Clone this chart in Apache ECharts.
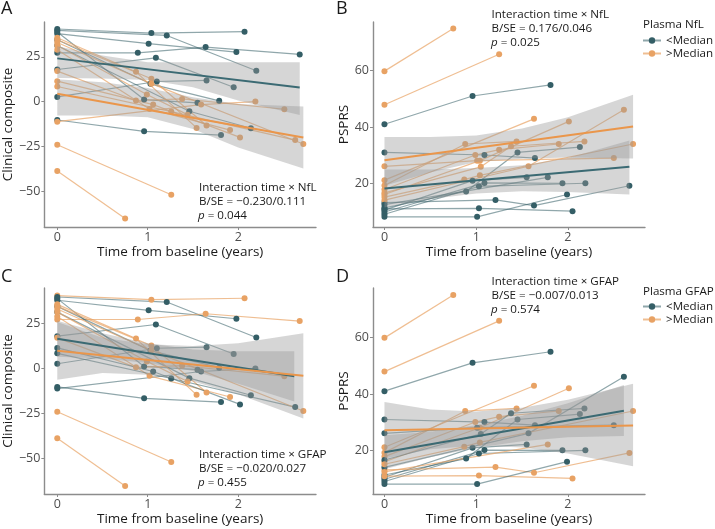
<!DOCTYPE html>
<html><head><meta charset="utf-8">
<script src="https://cdn.jsdelivr.net/npm/echarts@6/dist/echarts.min.js"></script>
<style>html,body{margin:0;padding:0;background:#fff}#c{width:715px;height:529px}</style>
</head><body><div id="c"></div>
<script>
// ---------- data ----------
const xTicks = [0, 1, 2];
const compositeTicks = [-50, -25, 0, 25];
const psprsTicks = [20, 40, 60];
const groupNames = ['<Median', '>Median'];

// Clinical composite, one trajectory per subject: [time (years), score]
const compositeSubjects = [
  [[0,40.5],[1.04,38.2],[2.07,39]],
  [[0,39.7],[1.21,36.9],[2.2,17.2]],
  [[0,37.9],[1.01,32.3],[1.98,27.6]],
  [[0,27.2],[0.89,27.2],[1.64,30.4],[2.68,26.3]],
  [[0,17.9],[1.09,24.4],[1.95,8]],
  [[0,2.6],[1.1,11.2],[1.65,11.8]],
  [[0,-10.3],[0.96,-16.6],[1.81,-18.7]],
  [[0,38.8],[0.96,1.1],[1.55,-0.7]],
  [[0,34.5],[1.03,9.9],[1.79,0.4]],
  [[0,31.3],[1.46,-5.4],[2.14,-14.9]],
  [[0,-24.1],[1.26,-52]],
  [[0,-38.8],[0.75,-65.3]],
  [[0,-11.2],[1.59,-1.7],[2.19,0]],
  [[0,35.6],[0.87,16.6],[1.54,-14.7]],
  [[0,34.5],[1.04,12.7],[1.65,-13.4]],
  [[0,31.3],[0.99,3.9],[1.44,-7.3]],
  [[0,28.9],[1.02,-4.1],[1.91,-15.9]],
  [[0,17],[0.87,0.6],[1.38,1.5],[2.51,-4.3]],
  [[0,11.4],[1.06,-1.7],[2.02,-20]],
  [[0,8.4],[1.26,-5.6],[2.63,-21.5]],
  [[0,33],[1.04,10],[2.72,-23.7]]
];
// group index: 0 = <Median, 1 = >Median
const compositeNfL  = [0,0,0,0,0,0,0,0,0,0,1,1,1,1,1,1,1,1,1,1,1];
const compositeGFAP = [1,0,0,1,0,0,0,0,0,0,1,1,0,1,1,1,1,1,0,0,1];

// PSPRS, one trajectory per subject
const psprsSubjects = [
  [[0,41],[0.96,51],[1.81,54.9]],
  [[0,59.8],[0.75,74.9]],
  [[0,47.9],[1.25,65.8]],
  [[0,31],[1.09,30.1],[1.64,29]],
  [[0,11.4],[0.89,17.2],[1.45,31],[2.13,32.9]],
  [[0,10.6],[0.96,21],[1.55,22.2]],
  [[0,9.9],[1.09,20.2],[1.94,20.1]],
  [[0,9.1],[1.03,19],[2.19,20.1]],
  [[0,13.2],[1.21,14.2],[1.63,12.2],[2.67,19.2]],
  [[0,11],[1.03,11.2],[2.05,10.2]],
  [[0,8.2],[1.01,8.2],[1.99,16.1]],
  [[0,21.2],[1.63,42.9]],
  [[0,19.3],[0.88,34],[1.44,34.9]],
  [[0,16.1],[1.04,28.1],[2.01,42]],
  [[0,14.1],[1.57,26.1],[2.61,46.1]],
  [[0,26.1],[1.01,28.1],[2.5,29]],
  [[0,17.9],[0.99,30.1],[1.25,32],[1.9,34]],
  [[0,16.7],[1.05,25.9],[1.38,33.2],[2.18,34.9]],
  [[0,15.2],[0.87,21.4],[1.04,22.9],[2.71,34]],
  [[0,12.5],[1.78,22.2]]
];
const psprsNfL  = [0,1,1,0,0,0,0,0,0,0,0,1,1,1,1,1,1,1,1,0];
const psprsGFAP = [0,1,1,0,0,0,0,0,1,1,0,1,1,1,0,0,1,0,1,1];

// fitted lines per group [<Median, >Median]
const fitCompositeNfL  = [[[0,24.1],[2.68,7.8]], [[0,4.3],[2.72,-20]]];
const fitPsprsNfL      = [[[0,18.2],[2.67,25.9]], [[0,28.2],[2.71,40.2]]];
const fitCompositeGFAP = [[[0,16.5],[2.62,-4.4]], [[0,9.8],[2.72,-4.1]]];
const fitPsprsGFAP     = [[[0,19.4],[2.61,34.1]], [[0,27.2],[2.71,28.9]]];

// confidence bands per group: [time, lower, upper]
const bandCompositeNfL = [
  [[0,13.2,30.8],[0.5,12.9,25.7],[1,12.1,22],[1.5,8,22],[2,0.6,22],[2.68,-7.5,22]],
  [[0,-7.8,12.5],[0.5,-7.8,10.8],[1,-8.8,7.6],[1.5,-15.3,2.4],[2,-25.6,-1.3],[2.72,-37.3,-2.8]]
];
const bandPsprsNfL = [
  [[0,11.5,25],[0.5,14.5,25],[1,16.5,25.5],[1.5,17.3,26.5],[2,17,29],[2.67,16.1,35.2]],
  [[0,19.2,36.5],[0.5,23.9,36.5],[1,27.6,37],[1.5,28.8,39.5],[2,29.2,43.5],[2.71,28.9,51.4]]
];
const bandCompositeGFAP = [
  [[0,6.5,26.5],[0.5,5.5,19.5],[1,3,14],[1.5,-1.5,10.5],[2,-8.5,9.5],[2.62,-18.4,9.6]],
  [[0,-6.3,25.8],[0.5,-2.5,17],[1,-3.5,13.5],[1.5,-7.3,12.5],[2,-14.4,14],[2.72,-27.8,19.6]]
];
const bandPsprsGFAP = [
  [[0,13.4,25.4],[0.5,17.7,26.7],[1,21,29],[1.5,23.3,32.3],[2,24.7,36.7],[2.61,25.2,43.2]],
  [[0,17.2,37.2],[0.5,20.5,34.5],[1,21.8,33.8],[1.5,21.1,35.1],[2,19,38],[2.71,14.5,43.6]]
];

// ---------- styling / layout ----------
const FONT = 'Open Sans';
const dotCol  = ['#345e66', '#e8a264'];
const lineCol = ['rgba(52,94,102,0.55)', 'rgba(232,162,100,0.7)'];
const fitCol  = ['#3b6a73', '#ea964b'];
const minus = v => String(v).replace('-', '\u2212');

const panels = [
  {grid:{left:43,top:22,width:273,height:205}, xr:[-0.143,2.86], yr:[-70,44.4], yTicks:compositeTicks, yName:'Clinical composite', yGap:27,
   subjects:compositeSubjects, groups:compositeNfL, fits:fitCompositeNfL, bands:bandCompositeNfL},
  {grid:{left:373,top:22,width:272,height:205}, xr:[-0.125,2.84], yr:[4.6,77.2], yTicks:psprsTicks, yName:'PSPRS', yGap:21,
   subjects:psprsSubjects, groups:psprsNfL, fits:fitPsprsNfL, bands:bandPsprsNfL},
  {grid:{left:43,top:288,width:273,height:206}, xr:[-0.143,2.86], yr:[-69.8,44.7], yTicks:compositeTicks, yName:'Clinical composite', yGap:27,
   subjects:compositeSubjects, groups:compositeGFAP, fits:fitCompositeGFAP, bands:bandCompositeGFAP},
  {grid:{left:373,top:288,width:272,height:206}, xr:[-0.125,2.84], yr:[4.7,77.4], yTicks:psprsTicks, yName:'PSPRS', yGap:21,
   subjects:psprsSubjects, groups:psprsGFAP, fits:fitPsprsGFAP, bands:bandPsprsGFAP}
];

const axisLineStyle = {color:'#8c8c8c', width:1.4};
const grids = [], xAxes = [], yAxes = [], series = [];
panels.forEach((p, i) => {
  grids.push(p.grid);
  xAxes.push({gridIndex:i, type:'value', min:p.xr[0], max:p.xr[1],
    axisLine:{show:true, onZero:false, lineStyle:axisLineStyle},
    axisTick:{show:true, length:3, customValues:xTicks, lineStyle:{color:'#8c8c8c', width:1}},
    axisLabel:{customValues:xTicks, color:'#4d4d4d', fontSize:12.5, fontFamily:FONT, margin:4, formatter:minus},
    splitLine:{show:false},
    name:'Time from baseline (years)', nameLocation:'middle', nameGap:14,
    nameTextStyle:{fontSize:13.5, color:'#1a1a1a', fontFamily:FONT}});
  yAxes.push({gridIndex:i, type:'value', min:p.yr[0], max:p.yr[1],
    axisLine:{show:true, onZero:false, lineStyle:axisLineStyle},
    axisTick:{show:true, length:3, customValues:p.yTicks, lineStyle:{color:'#8c8c8c', width:1}},
    axisLabel:{customValues:p.yTicks, color:'#4d4d4d', fontSize:12.5, fontFamily:FONT, margin:4, formatter:minus},
    splitLine:{show:false},
    name:p.yName, nameLocation:'middle', nameGap:p.yGap, nameRotate:90,
    nameTextStyle:{fontSize:13.5, color:'#1a1a1a', fontFamily:FONT}});

  p.subjects.forEach((s, k) => {
    const g = p.groups[k];
    series.push({type:'line', name:groupNames[g], xAxisIndex:i, yAxisIndex:i, data:s,
      symbol:'circle', symbolSize:6, showSymbol:true, z:2, silent:true,
      lineStyle:{color:lineCol[g], width:1.2}, itemStyle:{color:dotCol[g]}});
  });
  p.bands.forEach((band) => {
    series.push({type:'custom', xAxisIndex:i, yAxisIndex:i, data:band, z:3, silent:true,
      encode:{x:0, y:[1,2]},
      renderItem:(params, api) => {
        if (params.dataIndex !== 0) return null;
        const pts = [];
        band.forEach(d => pts.push(api.coord([d[0], d[2]])));
        for (let j = band.length - 1; j >= 0; j--) pts.push(api.coord([band[j][0], band[j][1]]));
        return {type:'polygon', shape:{points:pts}, style:{fill:'rgba(153,153,153,0.4)'}};
      }});
  });
  p.fits.forEach((f, g) => {
    series.push({type:'line', xAxisIndex:i, yAxisIndex:i, data:f, symbol:'none', z:4, silent:true,
      lineStyle:{color:fitCol[g], width:2}});
  });
});

const ANN = 11.6;
function txt(x, y, text, size, extra) {
  return Object.assign({type:'text', x:x, y:y, silent:true,
    style:Object.assign({text:text, fontSize:size, fontFamily:FONT, fill:'#1a1a1a',
      verticalAlign:'middle', align:'left',
      rich:{i:{fontStyle:'italic', fontSize:size, fontFamily:FONT, fill:'#1a1a1a'},
            n:{fontSize:size, fontFamily:FONT, fill:'#1a1a1a'}}}, extra || {})});
}
const graphics = [
  txt(1, 9, 'A', 18), txt(336, 9, 'B', 18), txt(1, 277, 'C', 18), txt(336, 277, 'D', 18),
  txt(199, 188, 'Interaction time \u00d7 NfL', ANN),
  txt(199, 202, 'B/SE = \u22120.230/0.111', ANN),
  txt(198, 216, '{i|p}{n| = 0.044}', ANN),
  txt(491.5, 15, 'Interaction time \u00d7 NfL', ANN),
  txt(491.5, 29, 'B/SE = 0.176/0.046', ANN),
  txt(491, 43, '{i|p}{n| = 0.025}', ANN),
  txt(199, 455, 'Interaction time \u00d7 GFAP', ANN),
  txt(199, 469, 'B/SE = \u22120.020/0.027', ANN),
  txt(198, 483, '{i|p}{n| = 0.455}', ANN),
  txt(491.5, 282, 'Interaction time \u00d7 GFAP', ANN),
  txt(491.5, 296, 'B/SE = \u22120.007/0.013', ANN),
  txt(491, 310, '{i|p}{n| = 0.574}', ANN),
  txt(643, 25, 'Plasma NfL', 11.6),
  txt(643, 292, 'Plasma GFAP', 11.6)
];

const legendBase = {orient:'vertical', data:groupNames, itemWidth:18, itemHeight:8, itemGap:1,
  textStyle:{fontSize:11.6, fontFamily:FONT, color:'#1a1a1a', padding:[0,0,0,0]}, selectedMode:false, padding:0};

const chart = echarts.init(document.getElementById('c'), null, {renderer:'canvas'});
chart.setOption({
  animation:false,
  backgroundColor:'#ffffff',
  grid:grids, xAxis:xAxes, yAxis:yAxes, series:series, graphic:graphics,
  legend:[Object.assign({left:642, top:34.5}, legendBase), Object.assign({left:642, top:300.5}, legendBase)]
});
</script></body></html>
